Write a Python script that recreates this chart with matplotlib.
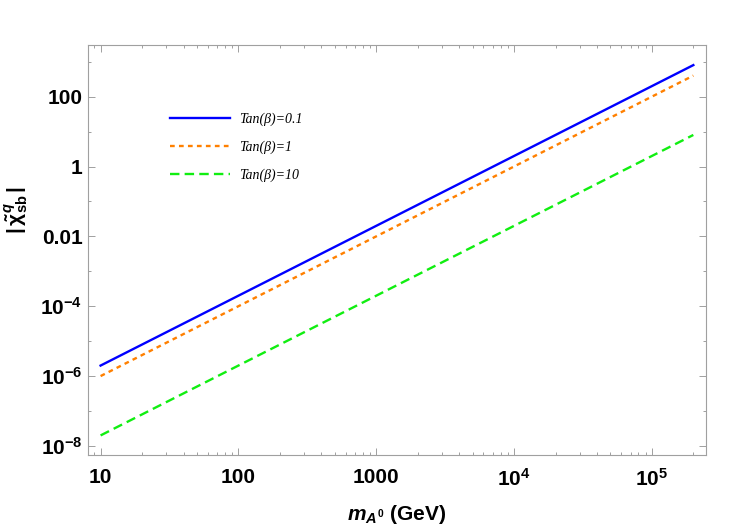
import numpy as np
import matplotlib
matplotlib.use("Agg")
import matplotlib.pyplot as plt
from matplotlib.ticker import FixedLocator, FixedFormatter, NullFormatter

plt.rcParams['font.family'] = ['Liberation Sans', 'DejaVu Sans']
plt.rcParams['mathtext.fontset'] = 'custom'
plt.rcParams['mathtext.rm'] = 'Liberation Sans:bold'
plt.rcParams['mathtext.bf'] = 'Liberation Sans:bold'
plt.rcParams['mathtext.it'] = 'Liberation Sans:italic:bold'
plt.rcParams['mathtext.sf'] = 'Liberation Sans:bold'

# values (log-log straight lines)
m_A0 = [10, 100, 1000, 1e4, 1e5, 2e5]
chi_tan01 = [2e-6, 2e-4, 2e-2, 2.0, 200, 800]
chi_tan1 = [1e-6, 1e-4, 1e-2, 1.0, 100, 400]
chi_tan10 = [2e-8, 2e-6, 2e-4, 2e-2, 2.0, 8.0]
labels = ['Tan(β)=0.1', 'Tan(β)=1', 'Tan(β)=10']

x_ticks = [10, 100, 1000, 1e4, 1e5]
x_ticklabels = ['10', '100', '1000', r'$10^{4}$', r'$10^{5}$']
y_ticks = [1e-8, 1e-6, 1e-4, 1e-2, 1, 100]
y_ticklabels = [r'$10^{-8}$', r'$10^{-6}$', r'$10^{-4}$', '0.01', '1', '100']

fig = plt.figure(figsize=(7.5, 5.3), dpi=100)
ax = fig.add_axes([0.1173, 0.1415, 0.824, 0.7735])

ax.plot(m_A0, chi_tan01, color='#0000ff', lw=1.7, label=labels[0])
ax.plot(m_A0, chi_tan1, color='#ff8000', lw=1.7, dashes=(2, 1.8), label=labels[1])
ax.plot(m_A0, chi_tan10, color='#11ee11', lw=1.7, dashes=(4, 2.2), label=labels[2])

ax.set_xscale('log')
ax.set_yscale('log')
ax.set_xlim(8.1, 2.47e5)
ax.set_ylim(5.5e-9, 3000)

ax.xaxis.set_major_locator(FixedLocator(x_ticks))
ax.xaxis.set_major_formatter(FixedFormatter(x_ticklabels))
xminor = [k * 10.0 ** d for d in range(0, 6) for k in range(2, 10)]
ax.xaxis.set_minor_locator(FixedLocator(xminor))
ax.xaxis.set_minor_formatter(NullFormatter())

ax.yaxis.set_major_locator(FixedLocator(y_ticks))
ax.yaxis.set_major_formatter(FixedFormatter(y_ticklabels))
ax.yaxis.set_minor_locator(FixedLocator([1e-9, 1e-7, 1e-5, 1e-3, 0.1, 10, 1000]))
ax.yaxis.set_minor_formatter(NullFormatter())

for s in ax.spines.values():
    s.set_color('#a0a0a0')
    s.set_linewidth(0.8)
ax.tick_params(which='both', direction='in', top=True, right=True, color='#a0a0a0', width=0.7)
ax.tick_params(which='major', length=5)
ax.tick_params(which='minor', length=2.5)
ax.tick_params(axis='x', which='major', pad=9, labelsize=15)
ax.tick_params(axis='y', which='major', pad=4, labelsize=15)
for lab in ax.get_xticklabels() + ax.get_yticklabels():
    lab.set_fontweight('bold')

ax.set_xlabel(r'$m_{A^0}$ (GeV)', fontsize=15, fontweight='bold', va='center')
ax.xaxis.set_label_coords(0.5, -0.146)
ax.set_ylabel(r'$|\,\tilde{\mathrm{\chi}}^{q}_{\mathrm{sb}}\,|$', fontsize=15, va='center')
ax.yaxis.set_label_coords(-0.115, 0.598)

ax.legend(loc='upper left', bbox_to_anchor=(0.133, 0.836), frameon=False,
          prop={'family': 'Liberation Serif', 'style': 'italic', 'size': 10},
          handlelength=4.3, handletextpad=0.65, labelspacing=1.05, borderpad=0,
          borderaxespad=0)

fig.savefig('out.png', dpi=100)
